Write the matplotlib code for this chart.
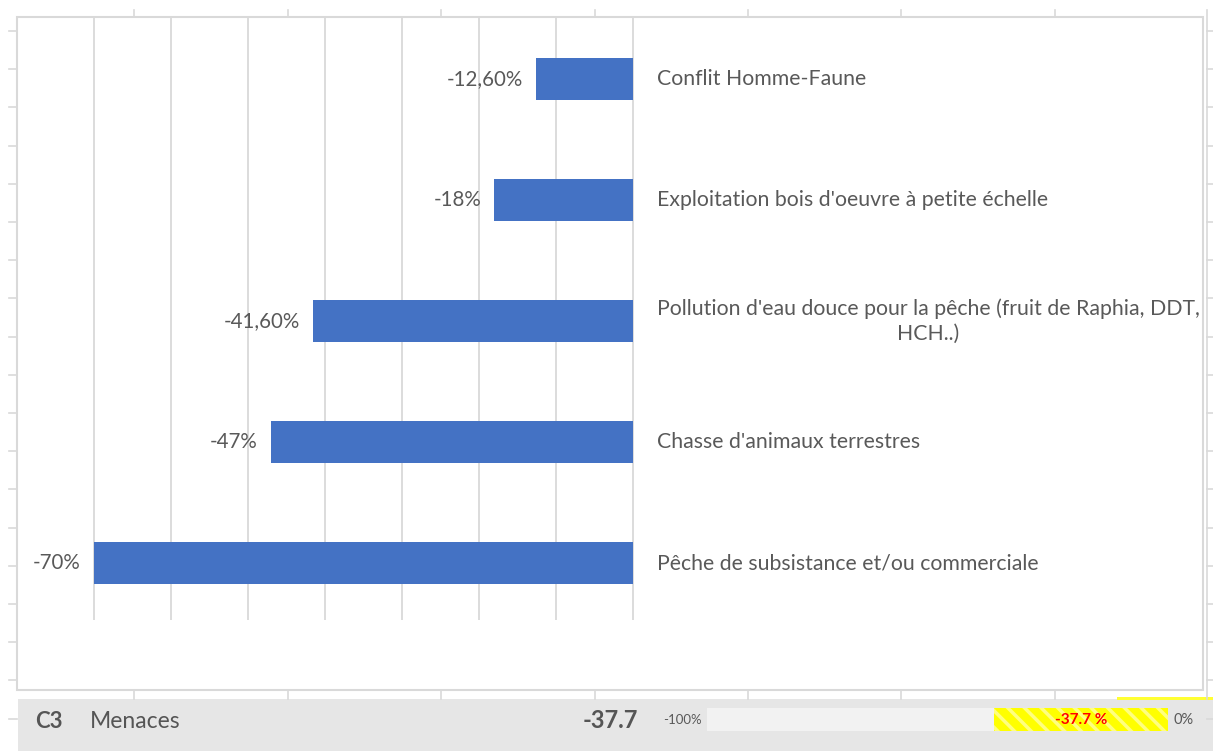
import matplotlib
matplotlib.use("Agg")
import matplotlib.pyplot as plt
from matplotlib.patches import Rectangle

# ---------------- data ----------------
categories = [
    "Conflit Homme-Faune",
    "Exploitation bois d'oeuvre à petite échelle",
    "Pollution d'eau douce pour la pêche (fruit de Raphia, DDT,\nHCH..)",
    "Chasse d'animaux terrestres",
    "Pêche de subsistance et/ou commerciale",
]
values = [-12.6, -18, -41.6, -47, -70]
value_labels = ["-12,60%", "-18%", "-41,60%", "-47%", "-70%"]
grid_ticks = [-70, -60, -50, -40, -30, -20, -10, 0]

summary_code = "C3"
summary_name = "Menaces"
summary_score = -37.7
score_range = [-100, 0]
score_range_labels = ["-100%", "0%"]

# ---------------- layout helpers ----------------
W, H = 1213, 751
FONT = ["Lato", "DejaVu Sans"]
TXT = "#595959"
GRID = "#d9d9d9"


def rect(x0, y0, x1, y1):
    return [x0 / W, 1 - y1 / H, (x1 - x0) / W, (y1 - y0) / H]


fig = plt.figure(figsize=(W / 100, H / 100), dpi=100)
fig.patch.set_facecolor("white")

# decoration layer in pixel coordinates
deco = fig.add_axes([0, 0, 1, 1], zorder=0)
deco.set_xlim(0, W)
deco.set_ylim(H, 0)
deco.axis("off")

# outer sheet ticks (left / right / top / bottom)
yy = 31.0
while yy < H:
    deco.plot([9, 17], [yy, yy], color=GRID, lw=1.2)
    deco.plot([1207, 1213], [yy, yy], color=GRID, lw=1.2)
    yy += 38.2
for xx in [134, 288, 441, 595, 748, 901, 1055]:
    deco.plot([xx, xx], [10, 17], color=GRID, lw=1.2)
    deco.plot([xx, xx], [690, 699], color=GRID, lw=1.2)
deco.plot([1207, 1207], [10, 699], color=GRID, lw=1.2)

# chart frame
deco.add_patch(Rectangle((17, 17), 1186, 673, fill=False, edgecolor=GRID, lw=1.5))

# bottom grey band
deco.add_patch(Rectangle((18, 699), W - 18, H - 699, facecolor="#e6e6e6", edgecolor="none"))
deco.add_patch(Rectangle((1117, 696.5), W - 1117, 3, facecolor="#ffff33", edgecolor="none"))

# ---------------- main bar chart ----------------
ax = fig.add_axes(rect(17, 17, 1203, 620), zorder=1)
ax.patch.set_alpha(0)
ypos = list(range(len(categories)))
ax.barh(ypos, values, height=0.35, color="#4472C4", zorder=2)
ax.set_xlim(-80, 74)
ax.set_ylim(4.47, -0.51)
ax.set_xticks(grid_ticks)
ax.set_yticks([])
ax.tick_params(axis="x", length=0, labelbottom=False)
ax.grid(axis="x", color=GRID, lw=1.3, zorder=0)
for s in ax.spines.values():
    s.set_visible(False)

for i, (v, lab, cat) in enumerate(zip(values, value_labels, categories)):
    ax.annotate(lab, xy=(v, i), xytext=(-9.5, 0), textcoords="offset points",
                ha="right", va="center", fontsize=14.8, color=TXT, family=FONT)
    ax.annotate(cat, xy=(0, i), xytext=(17, 0), textcoords="offset points",
                ha="left", va="center", multialignment="center",
                fontsize=15.3, color=TXT, family=FONT, linespacing=1.3)

# ---------------- summary strip ----------------
deco.text(35, 721, summary_code, fontsize=16, fontweight="bold", color="#555555",
          va="center", ha="left", family=FONT)
deco.text(90, 721, summary_name, fontsize=16.5, color="#555555",
          va="center", ha="left", family=FONT)
deco.text(638, 721, f"{summary_score:.1f}", fontsize=17, fontweight="bold",
          color="#555555", va="center", ha="right", family=FONT)

pax = fig.add_axes(rect(707, 708, 1168, 731), zorder=1)
pax.set_xlim(score_range)
pax.set_ylim(-0.5, 0.5)
pax.axis("off")
plt.rcParams["hatch.linewidth"] = 2.5
pax.barh([0], [score_range[0]], height=1.0, color="#f2f2f2")
pax.barh([0], [summary_score], height=1.0, color="#ffff00",
         hatch="\\\\", edgecolor="#ffff80", linewidth=0)
pax.text(summary_score / 2, 0, f"{summary_score:.1f} %", ha="center", va="center",
         fontsize=11, fontweight="bold", color="#ff0000", family=FONT)
pax.annotate(score_range_labels[0], xy=(score_range[0], 0), xytext=(-4, 0),
             textcoords="offset points", ha="right", va="center",
             fontsize=9.5, color=TXT, family=FONT)
pax.annotate(score_range_labels[1], xy=(score_range[1], 0), xytext=(4, 0),
             textcoords="offset points", ha="left", va="center",
             fontsize=10.5, color=TXT, family=FONT)

fig.savefig("out.png", dpi=100)
